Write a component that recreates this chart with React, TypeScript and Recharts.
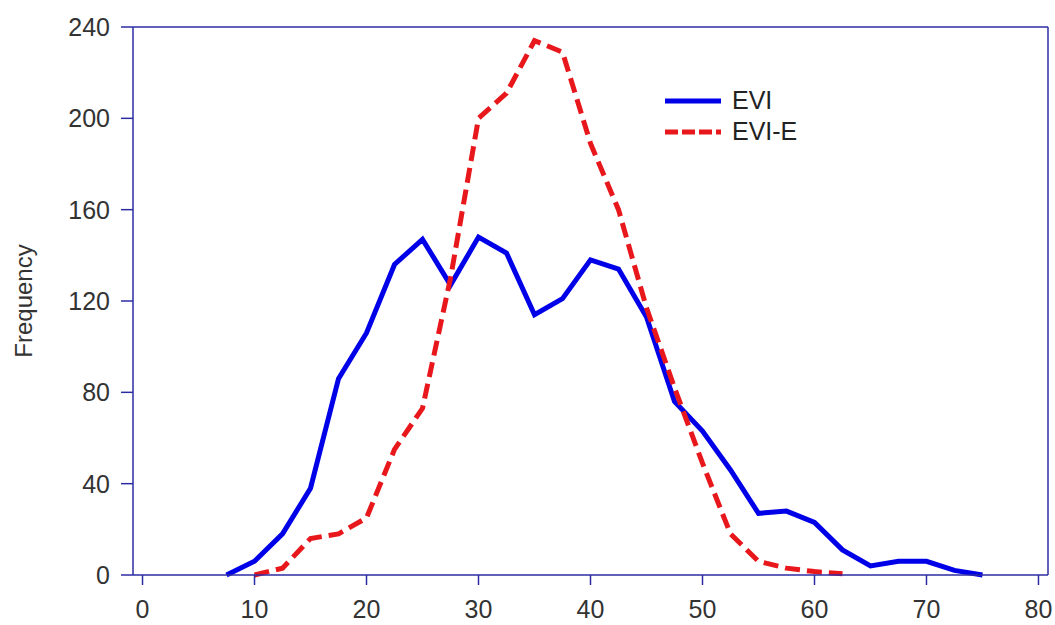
import React from 'react';
import { LineChart, Line, XAxis, YAxis, ReferenceLine, Legend } from 'recharts';

// bin centres shared by both histograms
const bins = [
  7.5, 10, 12.5, 15, 17.5, 20, 22.5, 25, 27.5, 30, 32.5, 35, 37.5, 40,
  42.5, 45, 47.5, 50, 52.5, 55, 57.5, 60, 62.5, 65, 67.5, 70, 72.5, 75,
];

const eviFreq = [
  0, 6, 18, 38, 86, 106, 136, 147, 127, 148, 141, 114, 121, 138,
  134, 113, 76, 63, 46, 27, 28, 23, 11, 4, 6, 6, 2, 0,
];

const evieFreq: (number | null)[] = [
  null, 0, 3, 16, 18, 25, 55, 73, 130, 200, 211, 234, 229, 189,
  160, 117, 82, 49, 18, 6, 3, 1.5, 0.5, null, null, null, null, null,
];

const xTicks = [0, 10, 20, 30, 40, 50, 60, 70, 80];
const yTicks = [0, 40, 80, 120, 160, 200, 240];

const data = bins.map((b, i) => ({ bin: b, evi: eviFreq[i], evie: evieFreq[i] }));

const AXIS = '#2c2ca3';
const BLUE = '#0000e8';
const RED = '#e8171c';
const FONT = 'Arial, "Liberation Sans", sans-serif';
const tickStyle = { fill: '#333', fontSize: 25, fontFamily: FONT };

function LegendBox() {
  const rows = [
    { name: 'EVI', color: BLUE, dash: undefined },
    { name: 'EVI-E', color: RED, dash: '13 4' },
  ];
  return (
    <div style={{ fontFamily: FONT, fontSize: 25, color: '#222' }}>
      {rows.map((r) => (
        <div key={r.name} style={{ display: 'flex', alignItems: 'center', height: 31 }}>
          <svg width={56} height={10} style={{ marginRight: 11 }}>
            <line x1={0} y1={5} x2={56} y2={5} stroke={r.color} strokeWidth={5} strokeDasharray={r.dash} />
          </svg>
          <span>{r.name}</span>
        </div>
      ))}
    </div>
  );
}

export default function App() {
  return (
    <div style={{ position: 'absolute', left: 0, top: 0, background: '#fff' }}>
      <LineChart width={1055} height={625} data={data} margin={{ top: 27, right: 7, bottom: 0, left: 0 }}>
        <XAxis
          dataKey="bin"
          type="number"
          domain={[-0.85, 80.85]}
          ticks={xTicks}
          allowDataOverflow
          height={50}
          tickSize={10}
          tickMargin={15}
          tick={tickStyle}
          axisLine={{ stroke: AXIS, strokeWidth: 1.5 }}
          tickLine={{ stroke: AXIS, strokeWidth: 1.5 }}
        />
        <YAxis
          type="number"
          domain={[0, 240]}
          ticks={yTicks}
          width={133}
          tickSize={12}
          tickMargin={11}
          tick={tickStyle}
          axisLine={{ stroke: AXIS, strokeWidth: 1.5 }}
          tickLine={{ stroke: AXIS, strokeWidth: 1.5 }}
          label={(props: any) => {
            const vb = props.viewBox || {};
            const cy = (vb.y ?? 27) + (vb.height ?? 548) / 2;
            return (
              <text
                x={23}
                y={cy}
                transform={`rotate(-90, 23, ${cy})`}
                textAnchor="middle"
                dominantBaseline="central"
                fill="#333"
                fontSize={24}
                fontFamily={FONT}
              >
                Frequency
              </text>
            );
          }}
        />
        <ReferenceLine y={240} stroke={AXIS} strokeWidth={1.5} />
        <ReferenceLine x={80.85} stroke={AXIS} strokeWidth={1.5} />
        <Legend
          layout="vertical"
          align="center"
          verticalAlign="middle"
          content={() => <LegendBox />}
          wrapperStyle={{ left: 665, top: 85, width: 'auto' }}
        />
        <Line
          type="linear"
          dataKey="evi"
          name="EVI"
          stroke={BLUE}
          strokeWidth={5}
          dot={false}
          isAnimationActive={false}
        />
        <Line
          type="linear"
          dataKey="evie"
          name="EVI-E"
          stroke={RED}
          strokeWidth={5}
          strokeDasharray="15 7"
          dot={false}
          isAnimationActive={false}
        />
      </LineChart>
    </div>
  );
}
